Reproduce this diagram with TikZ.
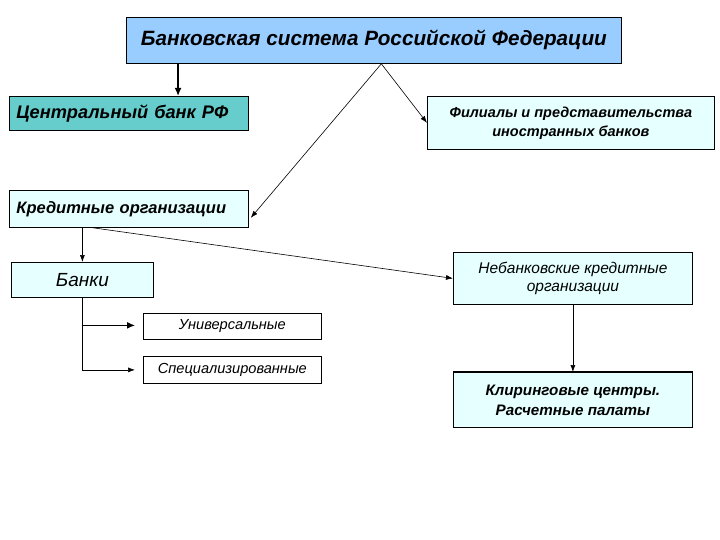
\documentclass[tikz,border=0pt]{standalone}
\usepackage{fontspec}
\setmainfont{Liberation Sans}
\usetikzlibrary{arrows.meta,calc}
\definecolor{topblue}{HTML}{99CCFF}
\definecolor{cbteal}{HTML}{66CCCC}
\definecolor{paleCyan}{HTML}{E6FFFF}
\begin{document}
\begin{tikzpicture}[x=1pt,y=-1pt,
  box/.style={draw=black, line width=0.8pt, inner sep=0pt, anchor=north west, align=center, font=\itshape},
  lbox/.style={box, align=left, inner xsep=7pt},
  conn/.style={draw=black, line width=0.6pt, -{Latex[length=7pt,width=5pt]}},
  thickconn/.style={draw=black, line width=1.6pt, -{Latex[length=8pt,width=7pt]}},
  plain/.style={draw=black, line width=0.6pt}]
\useasboundingbox (0,0) rectangle (720,540);

\node[box, fill=topblue, minimum width=495pt, minimum height=46pt,
  font=\bfseries\itshape\fontsize{20.7}{24}\selectfont] (top) at (126,17)
  {Банковская система Российской Федерации};

\node[lbox, fill=cbteal, text width=225pt, minimum height=34pt,
  font=\bfseries\itshape\fontsize{18.2}{21}\selectfont] (cb) at (9,96)
  {Центральный банк РФ};

\node[box, fill=paleCyan, minimum width=287pt, minimum height=53pt,
  font=\bfseries\itshape\fontsize{14.5}{19}\selectfont] (fil) at (427,96)
  {Филиалы и представительства\\иностранных банков};

\node[lbox, fill=paleCyan, text width=225pt, minimum height=37pt,
  font=\bfseries\itshape\fontsize{16.5}{19}\selectfont] (cr) at (9,190)
  {Кредитные организации};

\node[box, fill=paleCyan, minimum width=142pt, minimum height=35pt,
  font=\itshape\fontsize{19}{22}\selectfont] (bk) at (11,262)
  {Банки};

\node[box, fill=white, minimum width=178pt, minimum height=26pt,
  font=\itshape\fontsize{14.6}{17}\selectfont] (un) at (143,313)
  {Универсальные};

\node[box, fill=white, minimum width=178pt, minimum height=27pt,
  font=\itshape\fontsize{14.6}{17}\selectfont] (sp) at (143,356)
  {Специализированные};

\node[box, fill=paleCyan, minimum width=239pt, minimum height=52pt,
  font=\itshape\fontsize{15.5}{18}\selectfont] (nb) at (453,252)
  {Небанковские кредитные\\организации};

\node[box, fill=paleCyan, minimum width=239pt, minimum height=55pt,
  font=\bfseries\itshape\fontsize{15.2}{20}\selectfont] (cl) at (453,372)
  {Клиринговые центры.\\Расчетные палаты};
\draw[line width=1.6pt] (cl.north west) -- (cl.north east);

\coordinate (v) at ($(top.south west)!0.515!(top.south east)$);
\coordinate (cbsrc) at ($(top.south west)!0.105!(top.south east)$);

\draw[thickconn] (cbsrc) -- (cbsrc |- cb.north);
\draw[conn] (v) -- ($(cr.south east)+(2,-10)$);
\draw[conn] (v) -- (fil.west);
\draw[conn] ($(cr.south west)+(84,0)$) -- (nb.west);
\draw[conn] (cr.south -| bk.north) -- (bk.north);
\draw[plain] (bk.south) -- (bk.south |- sp.west);
\draw[thickconn, line width=1.2pt] ($(bk.south |- un.west)+(0,-1)$) -- ($(un.west)+(-8,-1)$);
\draw[conn] (bk.south |- sp.west) -- ($(sp.west)+(-8,0)$);
\draw[conn] (nb.south) -- (cl.north);
\end{tikzpicture}
\end{document}
